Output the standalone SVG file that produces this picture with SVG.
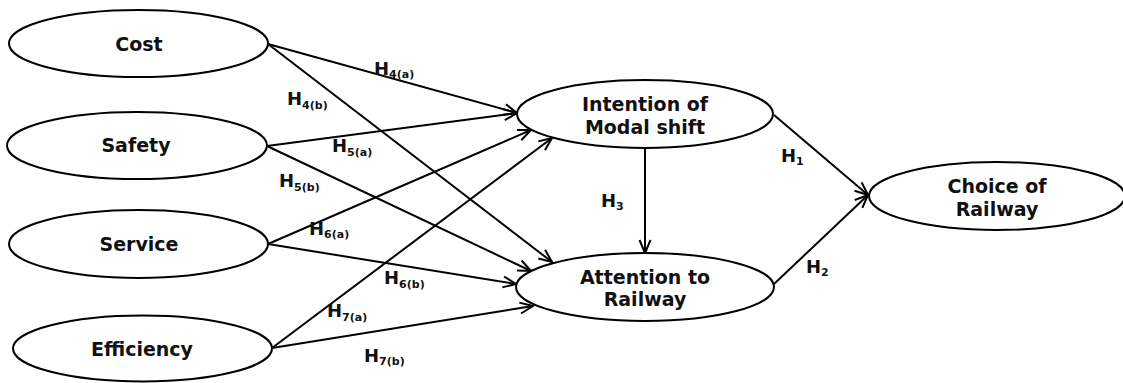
<svg xmlns="http://www.w3.org/2000/svg" width="1123" height="383" viewBox="0 0 1123 383">
  <style>
    .node { fill: #ffffff; stroke: #000000; stroke-width: 2; }
    .name { font-family: "DejaVu Sans", "Liberation Sans", sans-serif; font-weight: bold; font-size: 19px; fill: #111111; text-anchor: middle; }
    .link { fill: none; stroke: #000000; stroke-width: 2; marker-end: url(#arrow); }
    .hyp { font-family: "DejaVu Sans", "Liberation Sans", sans-serif; font-weight: bold; font-size: 18px; fill: #111111; }
    .sub { font-size: 11px; }
  </style>
  <defs>
    <marker id="arrow" viewBox="-14 -8 16 16" refX="0" refY="0" markerWidth="16" markerHeight="16" markerUnits="userSpaceOnUse" orient="auto">
      <path d="M -13,-5.5 L 0,0 L -13,5.5" fill="none" stroke="#000000" stroke-width="2" stroke-linejoin="miter"/>
    </marker>
  </defs>
  <rect width="1123" height="383" fill="#ffffff"/>

  <!-- connectors -->
  <g id="connectors">
    <line class="link" x1="268" y1="44" x2="517" y2="113"/>
    <line class="link" x1="267" y1="146" x2="517" y2="113"/>
    <line class="link" x1="268" y1="244" x2="531" y2="130"/>
    <line class="link" x1="272" y1="348" x2="552" y2="138"/>
    <line class="link" x1="268" y1="44" x2="552" y2="262"/>
    <line class="link" x1="267" y1="146" x2="531" y2="271"/>
    <line class="link" x1="268" y1="244" x2="516" y2="284"/>
    <line class="link" x1="272" y1="348" x2="533" y2="306"/>
    <line class="link" x1="645" y1="148" x2="645" y2="253"/>
    <line class="link" x1="774" y1="115" x2="868" y2="195"/>
    <line class="link" x1="774" y1="284" x2="868" y2="195"/>

    <!-- hypothesis labels -->
    <text class="hyp" x="374" y="75">H<tspan class="sub" dy="3">4(a)</tspan></text>
    <text class="hyp" x="287" y="105">H<tspan class="sub" dy="4">4(b)</tspan></text>
    <text class="hyp" x="332" y="152">H<tspan class="sub" dy="4">5(a)</tspan></text>
    <text class="hyp" x="279" y="187">H<tspan class="sub" dy="4">5(b)</tspan></text>
    <text class="hyp" x="309" y="235">H<tspan class="sub" dy="3">6(a)</tspan></text>
    <text class="hyp" x="384" y="284">H<tspan class="sub" dy="4">6(b)</tspan></text>
    <text class="hyp" x="327" y="317">H<tspan class="sub" dy="4">7(a)</tspan></text>
    <text class="hyp" x="364" y="362">H<tspan class="sub" dy="3">7(b)</tspan></text>
    <text class="hyp" x="781" y="162">H<tspan class="sub" dy="3">1</tspan></text>
    <text class="hyp" x="806" y="273">H<tspan class="sub" dy="3">2</tspan></text>
    <text class="hyp" x="601" y="207">H<tspan class="sub" dy="3">3</tspan></text>
  </g>

  <!-- constructs -->
  <g id="cost">
    <ellipse class="node" cx="138.5" cy="43.5" rx="129.5" ry="33.5"/>
    <text class="name" x="139" y="51">Cost</text>
  </g>
  <g id="safety">
    <ellipse class="node" cx="137" cy="145.5" rx="130" ry="33.5"/>
    <text class="name" x="136" y="152">Safety</text>
  </g>
  <g id="service">
    <ellipse class="node" cx="138.5" cy="244" rx="129.5" ry="34"/>
    <text class="name" x="139" y="251">Service</text>
  </g>
  <g id="efficiency">
    <ellipse class="node" cx="142.5" cy="348.5" rx="129.5" ry="33"/>
    <text class="name" x="142" y="356">Efficiency</text>
  </g>
  <g id="intention">
    <ellipse class="node" cx="645" cy="114" rx="128" ry="34"/>
    <text class="name" x="645" y="111">Intention of</text>
    <text class="name" x="645" y="134">Modal shift</text>
  </g>
  <g id="attention">
    <ellipse class="node" cx="645" cy="287" rx="129" ry="34"/>
    <text class="name" x="645" y="284">Attention to</text>
    <text class="name" x="645" y="306">Railway</text>
  </g>
  <g id="choice">
    <ellipse class="node" cx="997" cy="196" rx="128" ry="34"/>
    <text class="name" x="997" y="193">Choice of</text>
    <text class="name" x="997" y="216">Railway</text>
  </g>
</svg>
